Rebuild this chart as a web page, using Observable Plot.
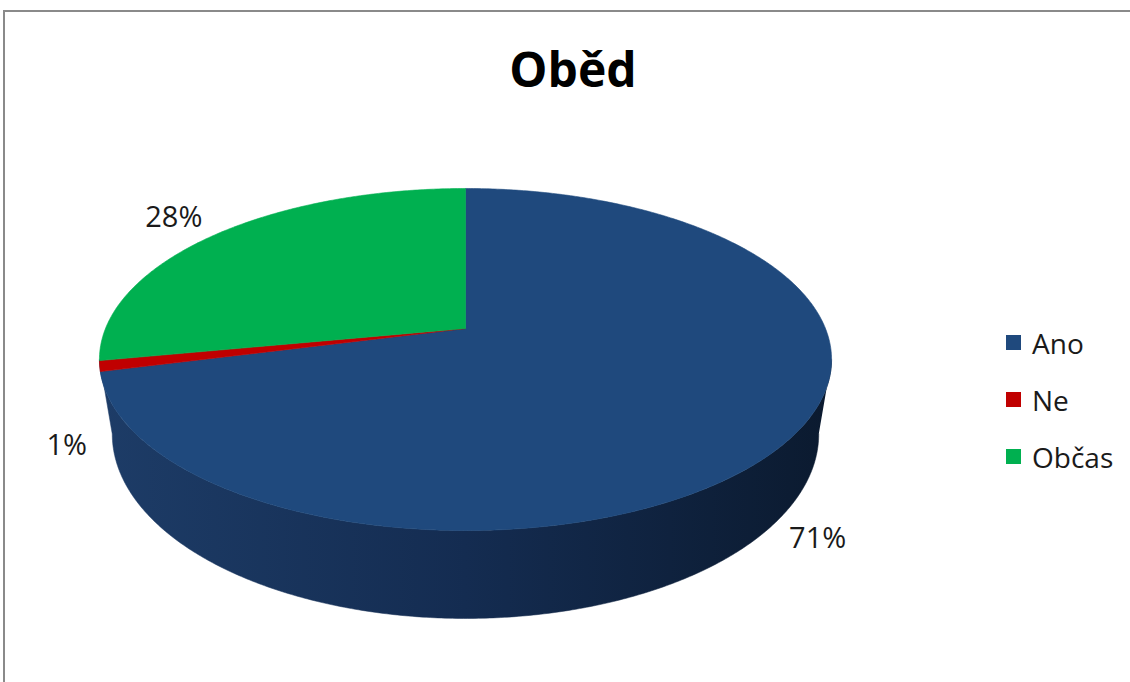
<!DOCTYPE html>
<html>
<head>
<meta charset="utf-8">
<script src="https://cdn.jsdelivr.net/npm/d3@7"></script>
<script src="https://cdn.jsdelivr.net/npm/@observablehq/plot@0.6"></script>
<style>
  html, body { margin: 0; padding: 0; background: #fff; }
  #wrap { position: relative; width: 1130px; height: 682px; overflow: hidden; font-family: "Open Sans", sans-serif; color: #1a1a1a; }
  #frame { position: absolute; left: 3px; top: 10px; right: -10px; bottom: -10px; border-top: 2px solid #8a8a8a; border-left: 2px solid #8a8a8a; }
  #title { position: absolute; left: 0; width: 1146px; top: 39px; text-align: center; font-weight: bold; font-size: 48px; line-height: 60px; color: #000; }
  #chart { position: absolute; left: 0; top: 0; }
  #legend { position: absolute; left: 1006px; top: 314px; }
  .item { display: flex; align-items: center; height: 57px; font-size: 28px; }
  .sw { width: 15px; height: 15px; margin-right: 11px; }
</style>
</head>
<body>
<div id="wrap">
  <div id="frame"></div>
  <div id="chart"></div>
  <div id="title">Oběd</div>
  <div id="legend"></div>
</div>
<script>
// ---- data ----
const categories = ["Ano", "Ne", "Občas"];
const shares = [71, 1, 28];
const colors = ["#1F497D", "#C00000", "#00B050"];

// ---- layout of the tilted pie (perspective) ----
const W = 1130, H = 682;
const cx = 465, cy = 328, rX = 360, rY = 165.4, persp = 0.1813, depth = 72, shrink = 0.035;
const rad = d => d * Math.PI / 180;
function proj(deg, drop = 0) {
  const X = Math.sin(rad(deg)), Y = Math.cos(rad(deg));
  const den = 1 + persp * Y;
  const f = 1 - shrink * drop;
  return {x: cx + f * rX * X / den, y: cy - rY * Y / den + drop * depth / den};
}
function arcPts(a0, a1, drop = 0) {
  const n = Math.max(2, Math.ceil(Math.abs(a1 - a0) / 0.5));
  return d3.range(n + 1).map(j => proj(a0 + (a1 - a0) * j / n, drop));
}

const total = d3.sum(shares);
let acc = 0;
const slices = categories.map((name, i) => {
  const start = acc / total * 360;
  acc += shares[i];
  const end = acc / total * 360;
  return {name, value: shares[i], color: colors[i], start, end};
});

const tops = slices.map(s => [{x: cx, y: cy}, ...arcPts(s.start, s.end), {x: cx, y: cy}]);
const sil = Math.acos(-persp) * 180 / Math.PI;
const side = [...arcPts(sil, 360 - sil, 0), ...arcPts(360 - sil, sil, 1)];

const labels = slices.map(s => {
  const mid = (s.start + s.end) / 2;
  const front = Math.cos(rad(mid)) < 0;
  const p = proj(mid);
  const a = front ? proj(mid, 1) : p;
  const dx = p.x - cx, dy = p.y - cy, L = Math.hypot(dx, dy);
  return {text: Math.round(s.value / total * 100) + "%", x: a.x + 46 * dx / L, y: a.y + 46 * dy / L};
});

const chart = Plot.plot({
  width: W, height: H, margin: 0,
  x: {domain: [0, W], range: [0, W], axis: null},
  y: {domain: [0, H], range: [0, H], axis: null},
  style: {background: "transparent"},
  marks: [
    Plot.line(side, {x: "x", y: "y", fill: "url(#sideGrad)", stroke: "url(#sideGrad)", strokeWidth: 0.5}),
    ...tops.map((pts, i) => Plot.line(pts, {x: "x", y: "y", fill: slices[i].color, stroke: slices[i].color, strokeWidth: 0.6})),
    Plot.text(labels, {x: "x", y: "y", text: "text", fontSize: 29, fill: "#1a1a1a", fontFamily: "Open Sans"})
  ]
});

const svg = d3.select(chart);
const grad = svg.insert("defs", ":first-child").append("linearGradient")
  .attr("id", "sideGrad").attr("x1", 0).attr("x2", 1).attr("y1", 0).attr("y2", 0);
grad.append("stop").attr("offset", "0%").attr("stop-color", "#1d3c67");
grad.append("stop").attr("offset", "50%").attr("stop-color", "#142c51");
grad.append("stop").attr("offset", "100%").attr("stop-color", "#0b1a2f");
document.getElementById("chart").appendChild(chart);

const legend = d3.select("#legend");
categories.forEach((c, i) => {
  const it = legend.append("div").attr("class", "item");
  it.append("div").attr("class", "sw").style("background", colors[i]);
  it.append("span").text(c);
});
</script>
</body>
</html>
